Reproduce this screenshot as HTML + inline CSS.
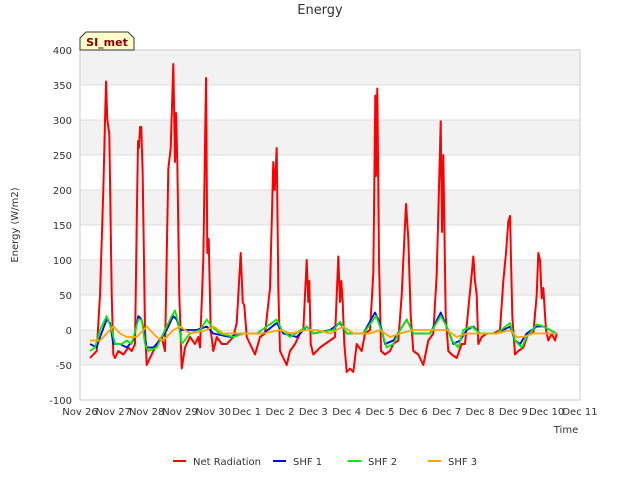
<!DOCTYPE html>
<html><head><meta charset="utf-8"><style>
body{margin:0;background:#fff;font-family:"Liberation Sans","DejaVu Sans",sans-serif}
svg text{font-family:"DejaVu Sans","Liberation Sans",sans-serif}
</style></head><body>
<svg id="chart" width="640" height="480" xmlns="http://www.w3.org/2000/svg">
<rect width="640" height="480" fill="#fff"/>
<g id="bands"></g><g id="grid"></g>
<rect x="80" y="50" width="500" height="350" fill="none" stroke="#ccc"/>
<g id="yticks"></g><g id="xticks"></g><g id="series"></g>
<text x="320" y="14" text-anchor="middle" font-size="13" fill="#333">Energy</text>
<text x="18" y="225" text-anchor="middle" font-size="10" fill="#333" transform="rotate(-90 18 225)">Energy (W/m2)</text>
<text x="566" y="433" text-anchor="middle" font-size="10" fill="#333">Time</text>
<g>
<path d="M80,50 L80,38 L86,32 L128,32 L134,38 L134,50 Z" fill="#ffffcc" stroke="#333"/>
<text x="107" y="46" text-anchor="middle" font-size="11" font-weight="bold" fill="#8b0000">SI_met</text>
</g>
<g id="legend"></g>
</svg>
<script>
const yTicks=[-100,-50,0,50,100,150,200,250,300,350,400];
const xTickLabels=["Nov 26","Nov 27","Nov 28","Nov 29","Nov 30","Dec 1","Dec 2","Dec 3","Dec 4","Dec 5","Dec 6","Dec 7","Dec 8","Dec 9","Dec 10","Dec 11"];
const seriesNames=["Net Radiation","SHF 1","SHF 2","SHF 3"];
const netRadiation=[[0.3,-40],[0.4,-35],[0.5,-30],[0.6,50],[0.7,200],[0.78,355],[0.82,300],[0.88,280],[0.95,50],[1.0,-35],[1.05,-40],[1.15,-30],[1.3,-35],[1.45,-25],[1.55,-30],[1.65,-20],[1.7,150],[1.74,270],[1.77,260],[1.8,290],[1.84,290],[1.88,220],[1.95,0],[2.0,-50],[2.1,-40],[2.3,-20],[2.45,-10],[2.55,-30],[2.65,230],[2.72,260],[2.8,380],[2.85,240],[2.88,310],[2.92,240],[2.98,50],[3.05,-55],[3.15,-25],[3.3,-10],[3.45,-20],[3.55,-10],[3.6,-25],[3.7,100],[3.78,360],[3.82,110],[3.86,130],[3.92,0],[4.0,-30],[4.1,-10],[4.25,-20],[4.4,-20],[4.5,-15],[4.6,-10],[4.7,10],[4.82,110],[4.88,40],[4.93,35],[5.0,-10],[5.1,-20],[5.25,-35],[5.4,-10],[5.55,-5],[5.7,60],[5.8,240],[5.84,200],[5.9,260],[5.95,60],[6.0,-30],[6.1,-40],[6.2,-50],[6.3,-30],[6.45,-20],[6.6,-5],[6.7,0],[6.8,100],[6.85,40],[6.88,70],[6.92,-20],[7.0,-35],[7.1,-30],[7.2,-25],[7.35,-20],[7.5,-15],[7.65,-10],[7.75,105],[7.8,40],[7.84,70],[7.88,40],[7.93,-20],[8.0,-60],[8.1,-55],[8.2,-60],[8.3,-20],[8.45,-30],[8.55,-5],[8.7,0],[8.8,80],[8.86,335],[8.88,220],[8.92,345],[8.97,100],[9.03,-30],[9.15,-35],[9.3,-30],[9.4,-20],[9.55,-15],[9.65,50],[9.72,120],[9.78,180],[9.85,130],[9.92,20],[10.0,-30],[10.15,-35],[10.3,-50],[10.45,-15],[10.6,-5],[10.7,80],[10.78,220],[10.82,298],[10.86,140],[10.9,250],[10.97,20],[11.05,-30],[11.15,-35],[11.3,-40],[11.45,-20],[11.55,-20],[11.65,30],[11.75,80],[11.8,105],[11.85,70],[11.9,50],[11.95,-20],[12.05,-10],[12.2,-5],[12.4,-5],[12.6,0],[12.7,70],[12.78,110],[12.85,155],[12.9,163],[12.97,20],[13.05,-35],[13.15,-30],[13.3,-25],[13.45,-5],[13.6,-5],[13.7,50],[13.75,110],[13.8,100],[13.85,45],[13.9,60],[13.98,0],[14.05,-15],[14.15,-5],[14.25,-15],[14.3,-5]];
const shf1=[[0.3,-20],[0.5,-25],[0.6,-10],[0.8,15],[0.9,10],[1.0,-20],[1.2,-20],[1.4,-25],[1.6,-15],[1.75,20],[1.85,15],[2.0,-25],[2.2,-25],[2.4,-15],[2.6,0],[2.8,20],[2.9,15],[3.0,0],[3.2,0],[3.5,0],[3.8,5],[4.0,-5],[4.5,-10],[4.8,-5],[5.0,-5],[5.5,-5],[5.9,10],[6.1,-5],[6.5,-10],[6.8,5],[7.0,-5],[7.5,0],[7.8,10],[8.0,-5],[8.5,-5],[8.85,25],[9.0,10],[9.15,-20],[9.4,-15],[9.6,0],[9.8,15],[10.0,-5],[10.5,-5],[10.82,25],[11.0,5],[11.2,-20],[11.4,-15],[11.6,0],[11.8,5],[12.0,-5],[12.5,-5],[12.9,5],[13.05,-15],[13.2,-20],[13.4,-5],[13.7,5],[13.9,5],[14.3,-5]];
const shf2=[[0.3,-30],[0.45,-25],[0.6,0],[0.8,20],[0.95,0],[1.05,-20],[1.25,-20],[1.4,-15],[1.55,-20],[1.75,15],[1.85,15],[1.95,-20],[2.05,-30],[2.3,-25],[2.5,-5],[2.75,20],[2.85,28],[2.95,10],[3.05,-20],[3.3,-5],[3.6,0],[3.8,15],[3.95,5],[4.2,-5],[4.6,-10],[4.9,-5],[5.3,-5],[5.9,15],[6.05,0],[6.3,-10],[6.8,5],[7.0,-5],[7.6,0],[7.8,12],[8.0,-5],[8.5,-5],[8.88,20],[9.0,5],[9.2,-25],[9.4,-20],[9.6,0],[9.8,15],[10.0,-5],[10.5,-5],[10.82,20],[11.0,5],[11.15,-15],[11.35,-25],[11.5,0],[11.75,5],[12.0,-5],[12.5,-5],[12.9,10],[13.05,-15],[13.25,-25],[13.4,-10],[13.7,8],[13.9,5],[14.3,-5]];
const shf3=[[0.3,-15],[0.6,-15],[1.0,5],[1.2,-5],[1.4,-10],[1.7,-10],[2.0,5],[2.3,-10],[2.5,-15],[2.8,0],[3.0,5],[3.3,-5],[3.8,0],[4.0,5],[4.3,-5],[4.8,-5],[5.2,-5],[5.5,-5],[6.0,0],[6.3,-5],[6.8,0],[7.1,0],[7.5,-5],[7.9,5],[8.2,-5],[8.7,-5],[9.0,0],[9.3,-10],[9.6,-5],[10.0,0],[10.3,0],[10.7,0],[11.0,0],[11.3,-10],[11.6,-5],[12.0,-5],[12.5,-5],[12.9,0],[13.1,-10],[13.3,-10],[13.6,-5],[14.0,-5],[14.3,-5]];
const colors=["#ff0000","#0000ff","#00ee00","#ffa500"];
const NS="http://www.w3.org/2000/svg";
const X0=80,X1=580,Y0=50,Y1=400;
const xs=d=>X0+d*(X1-X0)/15;
const ys=v=>Y1-(v+100)*(Y1-Y0)/500;
function mk(tag,attrs,parent){const e=document.createElementNS(NS,tag);for(const k in attrs)e.setAttribute(k,attrs[k]);document.getElementById(parent).appendChild(e);return e;}
for(let i=0;i<yTicks.length-1;i++){
  if(i%2===1){const b=mk("rect",{x:X0,y:ys(yTicks[i+1]),width:X1-X0,height:ys(yTicks[i])-ys(yTicks[i+1]),fill:"#f2f2f2"},"bands");
  
  }
}
yTicks.forEach(v=>{
  const l=mk("line",{x1:X0,x2:X1,y1:ys(v),y2:ys(v),stroke:"#ddd"},"grid");
  
  
  const t=mk("text",{x:X0-8,y:ys(v)+4,"text-anchor":"end","font-size":"10",fill:"#333"},"yticks");
  
  
  t.textContent=v;
});
xTickLabels.forEach((s,i)=>{
  const t=mk("text",{x:xs(i),y:415,"text-anchor":"middle","font-size":"10",fill:"#333"},"xticks");
  
  
  t.textContent=s;
});
[netRadiation,shf1,shf2,shf3].forEach((data,si)=>{
  const p=mk("polyline",{points:data.map(d=>xs(d[0]).toFixed(1)+","+ys(d[1]).toFixed(1)).join(" "),fill:"none",stroke:colors[si],"stroke-width":si===0?2:1.8,"stroke-linejoin":"round"},"series");
  
  
});
const legX=[173,273,348,428];
seriesNames.forEach((n,i)=>{
  const l=mk("line",{x1:legX[i],x2:legX[i]+13,y1:461,y2:461,stroke:colors[i],"stroke-width":2},"legend");
  
  
  const t=mk("text",{x:legX[i]+20,y:465,"font-size":"10",fill:"#333"},"legend");
  
  
  t.textContent=n;
});
</script>
</body></html>
